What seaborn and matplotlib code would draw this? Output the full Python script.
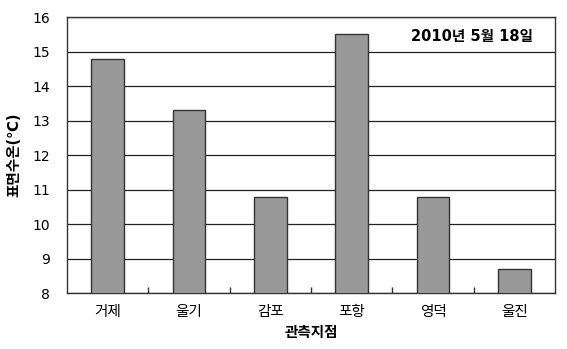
import matplotlib
matplotlib.use("Agg")
import matplotlib.pyplot as plt
import seaborn as sns
import pandas as pd

stations = ["거제", "울기", "감포", "포항", "영덕", "울진"]
temps = [14.8, 13.3, 10.8, 15.5, 10.8, 8.7]
yticks = [8, 9, 10, 11, 12, 13, 14, 15, 16]
date_text = "2010년 5월 18일"

sns.set_theme(style="white")
plt.rcParams['font.family'] = ['DejaVu Sans', 'Noto Sans CJK KR']
plt.rcParams['text.color'] = 'black'
plt.rcParams['axes.labelcolor'] = 'black'
plt.rcParams['xtick.color'] = 'black'
plt.rcParams['ytick.color'] = 'black'

df = pd.DataFrame({"station": stations, "temp": temps})

fig = plt.figure(figsize=(5.67, 3.49), dpi=100)
ax = fig.add_axes([0.118, 0.160, 0.861, 0.791])

ax.set_ylim(8, 16)
ax.set_yticks(yticks)
ax.yaxis.grid(True, color="#222222", linewidth=0.9)
ax.set_axisbelow(True)

sns.barplot(data=df, x="station", y="temp", color="#999999", saturation=1,
            width=0.4, edgecolor="#333333", linewidth=1.0, ax=ax, zorder=3)
for p in ax.patches:
    p.set_zorder(3)

ax.set_xlim(-0.5, len(stations) - 0.5)
ax.set_xlabel("관측지점", fontsize=10.5, fontweight="bold", labelpad=4)
ax.set_ylabel("표면수온(℃)", fontsize=10.5, fontweight="bold", labelpad=8)
ax.set_xticks(range(len(stations)))
ax.set_xticklabels(stations)
ax.tick_params(axis="x", which="major", bottom=True, length=0, labelsize=10.5, pad=8)
ax.tick_params(axis="y", length=0, labelsize=10, pad=12)
# minor ticks at category boundaries pointing inward
ax.set_xticks([i + 0.5 for i in range(len(stations) - 1)], minor=True)
ax.tick_params(axis="x", which="minor", bottom=True, direction="in", length=4,
               width=1.0, color="#333333")

for s in ax.spines.values():
    s.set_color("#333333")
    s.set_linewidth(1.0)

ax.text(0.955, 0.93, date_text, transform=ax.transAxes, ha="right", va="center",
        fontsize=10.5, fontweight="bold")

fig.savefig("out.png", dpi=100, facecolor="white")
